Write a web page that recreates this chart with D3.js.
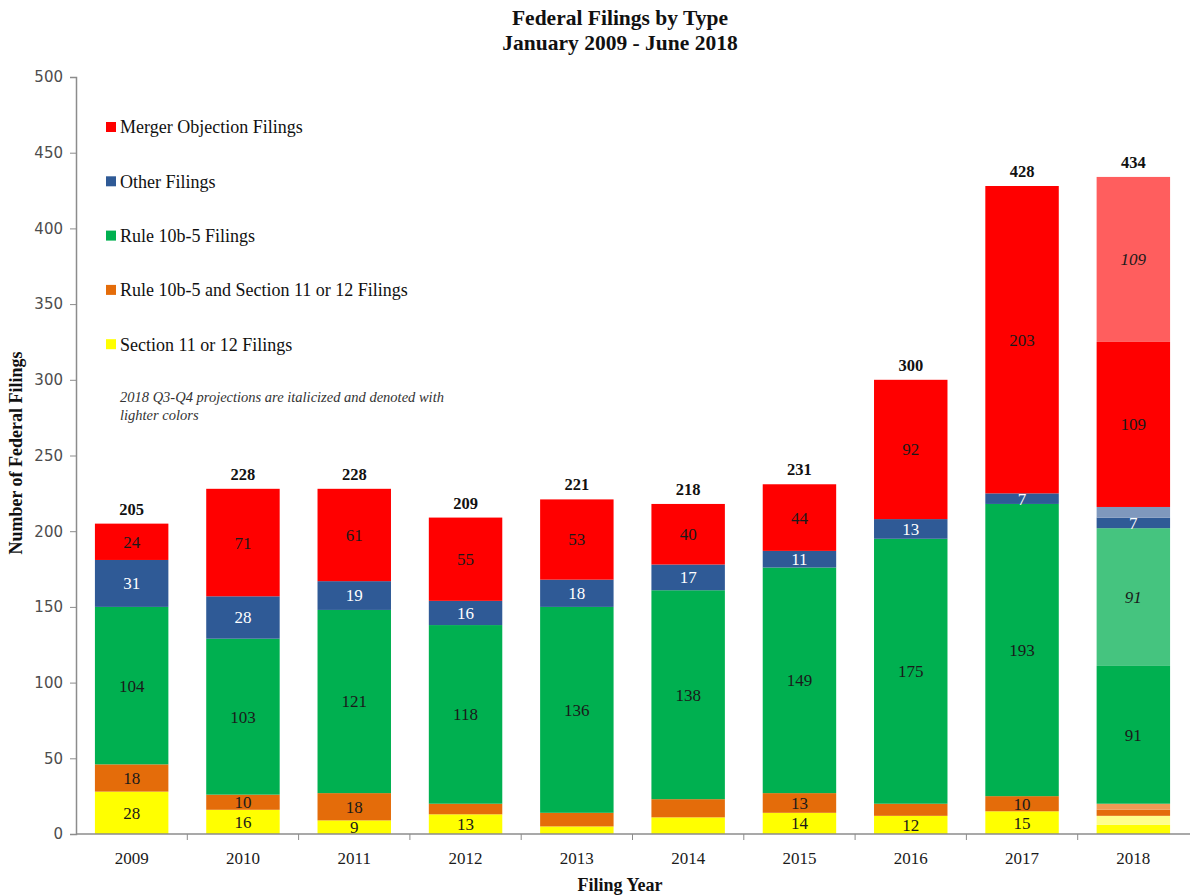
<!DOCTYPE html>
<html>
<head>
<meta charset="utf-8">
<script src="https://cdn.jsdelivr.net/npm/d3@7"></script>
<style>
  html, body { margin: 0; padding: 0; background: #fff; }
  svg { display: block; }
</style>
</head>
<body>
<svg id="chart" width="1198" height="896"></svg>
<script>
// Filing years
const years = ["2009", "2010", "2011", "2012", "2013", "2014", "2015", "2016", "2017", "2018"];

// Filings by type (2018 = January-June actuals)
const section11 = [28, 16, 9, 13, 5, 11, 14, 12, 15, 6];
const rule10b5AndSection11 = [18, 10, 18, 7, 9, 12, 13, 8, 10, 4];
const rule10b5 = [104, 103, 121, 118, 136, 138, 149, 175, 193, 91];
const otherFilings = [31, 28, 19, 16, 18, 17, 11, 13, 7, 7];
const mergerObjection = [24, 71, 61, 55, 53, 40, 44, 92, 203, 109];

// 2018 Q3-Q4 projections
const section11Proj = [0, 0, 0, 0, 0, 0, 0, 0, 0, 6];
const rule10b5AndSection11Proj = [0, 0, 0, 0, 0, 0, 0, 0, 0, 4];
const rule10b5Proj = [0, 0, 0, 0, 0, 0, 0, 0, 0, 91];
const otherFilingsProj = [0, 0, 0, 0, 0, 0, 0, 0, 0, 7];
const mergerObjectionProj = [0, 0, 0, 0, 0, 0, 0, 0, 0, 109];

// Segments whose value is not printed inside the bar
const unlabeled = ["2012|both", "2013|s11", "2013|both", "2014|s11", "2014|both",
                   "2016|both", "2018|s11", "2018|both", "2018|otherP", "2018|s11P", "2018|bothP"];

const yTicks = [0, 50, 100, 150, 200, 250, 300, 350, 400, 450, 500];

const series = [
  { key: "s11", name: "Section 11 or 12 Filings", values: section11, proj: section11Proj, color: "#FFFF00", light: "#FFFF8A", text: "#1a1a1a" },
  { key: "both", name: "Rule 10b-5 and Section 11 or 12 Filings", values: rule10b5AndSection11, proj: rule10b5AndSection11Proj, color: "#E46C0A", light: "#EE9A55", text: "#1a1a1a" },
  { key: "rule", name: "Rule 10b-5 Filings", values: rule10b5, proj: rule10b5Proj, color: "#00B050", light: "#45C47F", text: "#1a1a1a" },
  { key: "other", name: "Other Filings", values: otherFilings, proj: otherFilingsProj, color: "#2F5A96", light: "#7F98BD", text: "#fff" },
  { key: "merger", name: "Merger Objection Filings", values: mergerObjection, proj: mergerObjectionProj, color: "#FF0000", light: "#FF5E5E", text: "#1a1a1a" }
];

const svg = d3.select("#chart");
const serif = "'Liberation Serif', 'Times New Roman', serif";

const x = d3.scaleBand().domain(years).range([76, 1189]).paddingInner(0.34).paddingOuter(0.17);
const y = d3.scaleLinear().domain([0, 500]).range([834, 77]);

// Build stacked segments: each type's actuals, then its projection right above
const segments = [];
const totals = [];
years.forEach((yr, i) => {
  let base = 0;
  series.forEach(s => {
    const v = s.values[i];
    segments.push({ year: yr, y0: base, y1: base + v, value: v, fill: s.color, text: s.text, italic: false, key: s.key });
    base += v;
    const p = s.proj[i];
    if (p > 0) {
      segments.push({ year: yr, y0: base, y1: base + p, value: p, fill: s.light, text: s.text, italic: true, key: s.key + "P" });
      base += p;
    }
  });
  totals.push({ year: yr, total: base });
});

// Bars
svg.append("g").selectAll("rect").data(segments).join("rect")
  .attr("x", d => x(d.year))
  .attr("width", x.bandwidth())
  .attr("y", d => y(d.y1))
  .attr("height", d => y(d.y0) - y(d.y1))
  .attr("fill", d => d.fill);

// Segment value labels
svg.append("g").selectAll("text")
  .data(segments.filter(d => !unlabeled.includes(d.year + "|" + d.key)))
  .join("text")
  .attr("x", d => x(d.year) + x.bandwidth() / 2)
  .attr("y", d => y((d.y0 + d.y1) / 2))
  .attr("dy", "0.35em")
  .attr("text-anchor", "middle")
  .attr("font-family", serif)
  .attr("font-size", 17)
  .attr("font-style", d => d.italic ? "italic" : "normal")
  .attr("fill", d => d.text)
  .text(d => d.value);

// Totals above bars
svg.append("g").selectAll("text").data(totals).join("text")
  .attr("x", d => x(d.year) + x.bandwidth() / 2)
  .attr("y", d => y(d.total) - 9)
  .attr("text-anchor", "middle")
  .attr("font-family", serif)
  .attr("font-weight", "bold")
  .attr("font-size", 16.5)
  .attr("fill", "#111")
  .text(d => d.total);

// Y axis
const yAxis = svg.append("g").attr("transform", "translate(76,0)")
  .call(d3.axisLeft(y).tickValues(yTicks).tickSize(6).tickPadding(7));
yAxis.select(".domain").attr("stroke", "#8c8c8c").attr("stroke-width", 1.5);
yAxis.selectAll(".tick line").attr("stroke", "#8c8c8c");
yAxis.selectAll(".tick text")
  .attr("font-family", "'DejaVu Sans', sans-serif")
  .attr("font-size", 15)
  .attr("fill", "#4d4d4d");

// X axis: baseline with ticks between categories
const step = x.step();
const boundaries = years.slice(1).map(yr => x(yr) - x.paddingInner() * step / 2);
svg.append("line")
  .attr("x1", 76).attr("x2", 1190).attr("y1", y(0)).attr("y2", y(0))
  .attr("stroke", "#8c8c8c").attr("stroke-width", 1.5);
svg.append("g").selectAll("line").data(boundaries).join("line")
  .attr("x1", d => d).attr("x2", d => d)
  .attr("y1", y(0)).attr("y2", y(0) + 6)
  .attr("stroke", "#8c8c8c");
svg.append("g").selectAll("text").data(years).join("text")
  .attr("x", d => x(d) + x.bandwidth() / 2)
  .attr("y", 864)
  .attr("text-anchor", "middle")
  .attr("font-family", serif)
  .attr("font-size", 17)
  .attr("fill", "#1a1a1a")
  .text(d => d);

// Axis titles
svg.append("text")
  .attr("x", 620).attr("y", 891)
  .attr("text-anchor", "middle")
  .attr("font-family", serif).attr("font-weight", "bold").attr("font-size", 18)
  .attr("fill", "#111")
  .text("Filing Year");
svg.append("text")
  .attr("transform", "translate(22,453) rotate(-90)")
  .attr("text-anchor", "middle")
  .attr("font-family", serif).attr("font-weight", "bold").attr("font-size", 18)
  .attr("fill", "#111")
  .text("Number of Federal Filings");

// Title
const title = svg.append("text")
  .attr("text-anchor", "middle")
  .attr("font-family", serif).attr("font-weight", "bold").attr("font-size", 21.5)
  .attr("fill", "#111");
title.append("tspan").attr("x", 620).attr("y", 25).text("Federal Filings by Type");
title.append("tspan").attr("x", 620).attr("y", 50).text("January 2009 - June 2018");

// Legend (top entry is the top of the stack)
const legendRows = series.slice().reverse();
const legend = svg.append("g").selectAll("g").data(legendRows).join("g")
  .attr("transform", (d, i) => `translate(106,${127 + i * 54.3})`);
legend.append("rect")
  .attr("x", 0).attr("y", -5).attr("width", 10).attr("height", 10)
  .attr("fill", d => d.color);
legend.append("text")
  .attr("x", 14).attr("dy", "0.35em")
  .attr("font-family", serif).attr("font-size", 18)
  .attr("fill", "#111")
  .text(d => d.name);

// Projection note
const note = svg.append("text")
  .attr("font-family", serif).attr("font-style", "italic").attr("font-size", 14.5)
  .attr("fill", "#333");
note.append("tspan").attr("x", 120).attr("y", 402).text("2018 Q3-Q4 projections are italicized and denoted with");
note.append("tspan").attr("x", 120).attr("y", 420).text("lighter colors");
</script>
</body>
</html>
